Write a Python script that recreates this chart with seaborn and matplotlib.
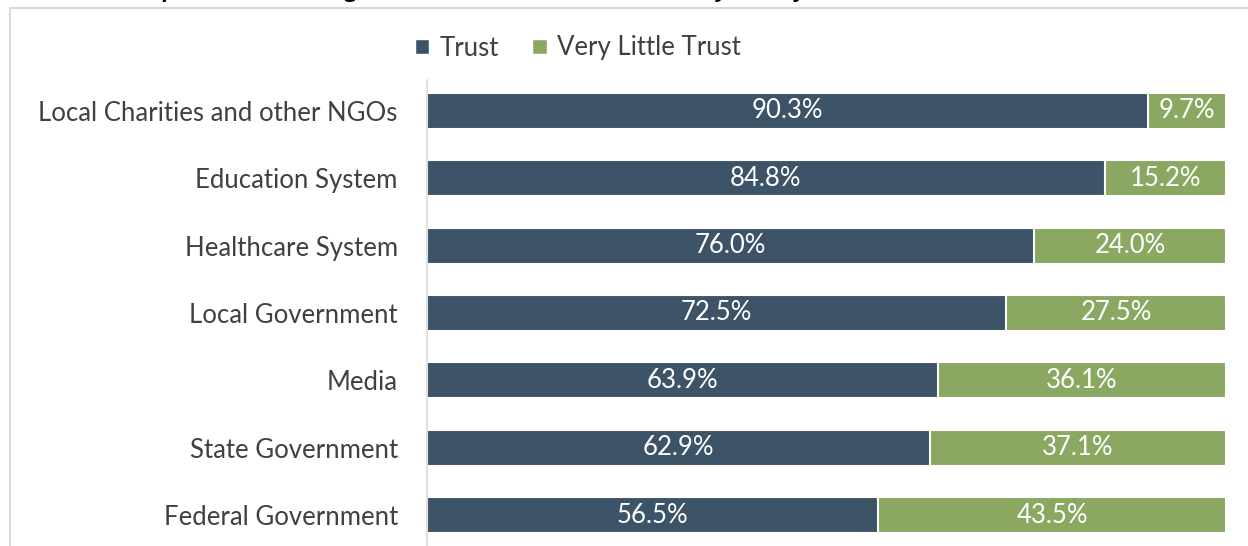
import matplotlib
matplotlib.use("Agg")
import matplotlib.pyplot as plt
import seaborn as sns
import pandas as pd
from matplotlib.patches import Rectangle, Patch

categories = ["Local Charities and other NGOs", "Education System", "Healthcare System",
              "Local Government", "Media", "State Government", "Federal Government"]
trust = [90.3, 84.8, 76.0, 72.5, 63.9, 62.9, 56.5]
little_trust = [9.7, 15.2, 24.0, 27.5, 36.1, 37.1, 43.5]
title = "Percent of Respondents Trusting Local Institutions, Food Insecurity Survey, 2020"

BLUE = "#3D5468"
GREEN = "#8BA862"
TXT = "#404040"
FS = 18.5

sns.set_theme(style="white")
plt.rcParams['font.family'] = ['Lato', 'DejaVu Sans']

W, H = 1248, 546
fig = plt.figure(figsize=(W / 100, H / 100), dpi=100)

df = pd.DataFrame({"cat": categories, "trust": trust, "little": little_trust})
df["total"] = df["trust"] + df["little"]

ax = fig.add_axes([427 / W, 0, (1226 - 427) / W, (H - 80) / H])
sns.barplot(data=df, y="cat", x="total", color=GREEN, orient="h", width=0.53,
            edgecolor="white", linewidth=1.5, ax=ax, saturation=1)
sns.barplot(data=df, y="cat", x="trust", color=BLUE, orient="h", width=0.53,
            edgecolor="white", linewidth=1.5, ax=ax, saturation=1)

ax.set_xlim(0, 100)
ax.set_ylim(6.46, -0.46)
ax.set_xlabel("")
ax.set_ylabel("")
ax.set_xticks([])
for s in ["top", "right", "bottom"]:
    ax.spines[s].set_visible(False)
ax.spines["left"].set_color("#D9D9D9")
ax.spines["left"].set_linewidth(1.2)
ax.tick_params(axis="y", length=0, pad=21, labelsize=FS, labelcolor=TXT)

for i, (t, l) in enumerate(zip(trust, little_trust)):
    ax.text(t / 2, i, f"{t:.1f}%", color="white", ha="center", va="center", fontsize=FS)
    ax.text(t + l / 2, i, f"{l:.1f}%", color="white", ha="center", va="center", fontsize=FS)

handles = [Patch(facecolor=BLUE, label="Trust"), Patch(facecolor=GREEN, label="Very Little Trust")]
fig.legend(handles=handles, loc="center", bbox_to_anchor=(578 / W, 1 - 48 / H), ncol=2,
           frameon=False, fontsize=FS, labelcolor=TXT, handlelength=0.55, handleheight=0.55,
           handletextpad=0.4, columnspacing=1.3)

fig.patches.append(Rectangle((10 / W, -0.05), 1.1, 1 - 8 / H + 0.05, transform=fig.transFigure,
                             fill=False, edgecolor="#D9D9D9", linewidth=1.5))
fig.text(8 / W, 1 + 3 / H, title, ha="left", va="baseline", fontsize=15.5, fontweight="bold",
         color="black", family=["Open Sans", "DejaVu Sans"])

fig.savefig("out.png", dpi=100)
